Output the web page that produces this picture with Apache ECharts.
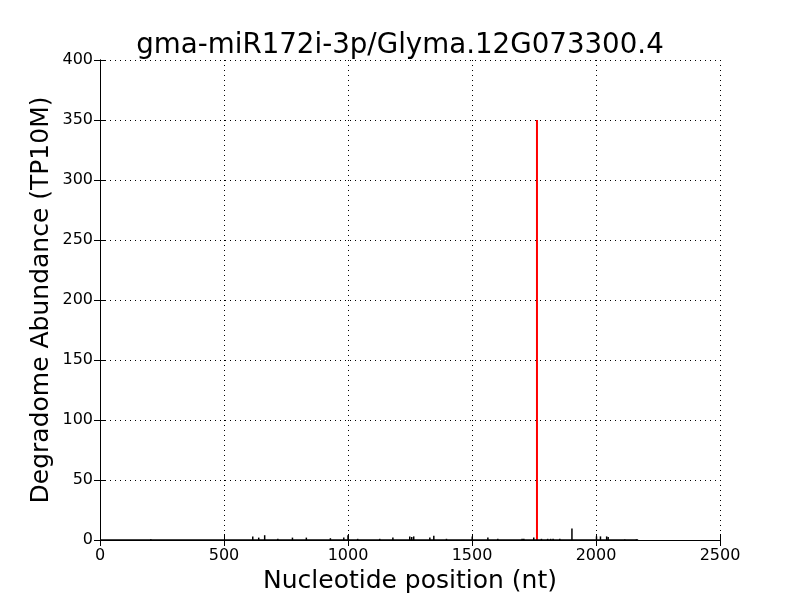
<!DOCTYPE html>
<html><head><meta charset="utf-8">
<script src="https://cdn.jsdelivr.net/npm/echarts@6/dist/echarts.min.js"></script>
<style>html,body{margin:0;padding:0;background:#fff}#c{width:800px;height:600px}</style>
</head><body><div id="c"></div>
<script>
const title = "gma-miR172i-3p/Glyma.12G073300.4";
const xLabel = "Nucleotide position (nt)";
const yLabel = "Degradome Abundance (TP10M)";
const xTicks = [0, 500, 1000, 1500, 2000, 2500];
const yTicks = [0, 50, 100, 150, 200, 250, 300, 350, 400];
// background degradome signal: positions (nt) and abundance (TP10M)
const bgPos = [206, 617, 641, 665, 718, 777, 833, 930, 984, 1001, 1040, 1129, 1182, 1250, 1258, 1266, 1331, 1347, 1398, 1502, 1565, 1605, 1703, 1710, 1750, 1781, 1806, 1818, 1828, 1855, 1904, 2003, 2019, 2044, 2050, 2117, 2164];
const bgVal = [0.6, 3, 2, 4, 1, 2, 2, 1.5, 2, 4, 1, 1, 2, 3, 2.5, 3, 2, 3.5, 1, 3, 2, 1, 1, 1, 2, 1, 1, 1, 1, 1, 9.5, 3, 3, 3, 2.5, 0.5, 0.5];
// transcript extent (nt)
const transcriptEnd = 2170;
// cleavage site
const sitePos = [1762];
const siteVal = [350];

const chart = echarts.init(document.getElementById('c'));
const font = 'DejaVu Sans';
const axisCommon = {
  axisLine: {show: true, lineStyle: {color: '#000', width: 1}},
  axisTick: {show: true, inside: true, length: 6, lineStyle: {color: '#000'}},
};
chart.setOption({
  animation: false,
  backgroundColor: '#fff',
  title: {text: title, left: 'center', top: 27, textStyle: {fontFamily: font, fontSize: 27.7, fontWeight: 'normal', color: '#000'}},
  grid: {left: 100, right: 80, top: 60, bottom: 60},
  xAxis: [{
    type: 'value', min: 0, max: 2500, interval: 500, position: 'bottom',
    name: xLabel, nameLocation: 'middle', nameGap: 29, nameMoveOverlap: false,
    nameTextStyle: {fontFamily: font, fontSize: 25, color: '#000'},
    axisLabel: {fontFamily: font, fontSize: 16, color: '#000', margin: 8, formatter: v => String(v)},
    splitLine: {show: true, lineStyle: {color: '#000', type: [1, 4], width: 1}},
    ...axisCommon
  }, {
    type: 'value', min: 0, max: 2500, interval: 500, position: 'top',
    axisLabel: {show: false}, splitLine: {show: false}, ...axisCommon
  }],
  yAxis: [{
    type: 'value', min: 0, max: 400, interval: 50, position: 'left',
    name: yLabel, nameLocation: 'middle', nameGap: 46, nameMoveOverlap: false,
    nameTextStyle: {fontFamily: font, fontSize: 25, color: '#000'},
    axisLabel: {fontFamily: font, fontSize: 16, color: '#000', margin: 7, formatter: v => String(v)},
    splitLine: {show: true, lineStyle: {color: '#000', type: [1, 4], width: 1}},
    ...axisCommon
  }, {
    type: 'value', min: 0, max: 400, interval: 50, position: 'right',
    axisLabel: {show: false}, splitLine: {show: false}, ...axisCommon
  }],
  series: [{
    type: 'bar', xAxisIndex: 0, yAxisIndex: 0, barWidth: 1.5,
    itemStyle: {color: '#000'},
    data: bgPos.map((p, i) => [p, bgVal[i]])
  }, {
    type: 'bar', xAxisIndex: 0, yAxisIndex: 0, barWidth: 2, barGap: '-100%',
    itemStyle: {color: '#ff0000'},
    data: sitePos.map((p, i) => [p, siteVal[i]])
  }, {
    type: 'line', xAxisIndex: 0, yAxisIndex: 0, symbol: 'none',
    lineStyle: {color: '#000', width: 1.5},
    data: [[0, 0], [transcriptEnd, 0]]
  }]
});
</script></body></html>
